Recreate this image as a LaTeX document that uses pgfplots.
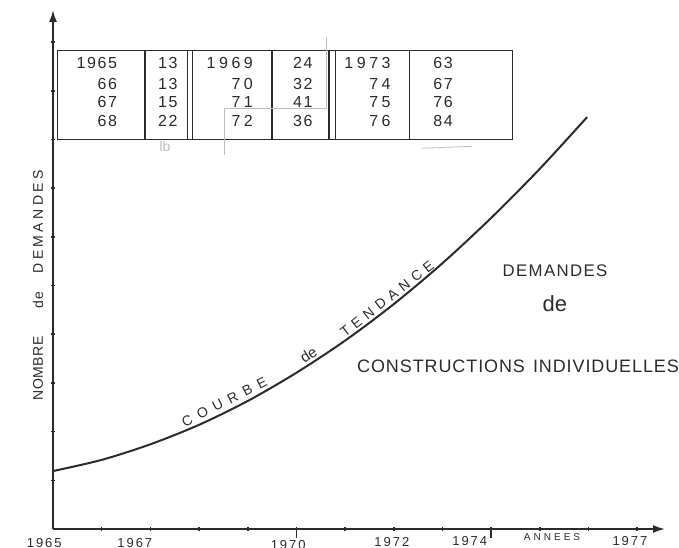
\documentclass[border=0pt]{standalone}
\usepackage{fontspec}
\setmainfont{Liberation Sans}
\usepackage{pgfplots}
\usepackage{pgfplotstable}
\pgfplotsset{compat=1.18}
\usetikzlibrary{arrows.meta}
\definecolor{ink}{HTML}{2B2B2B}
\definecolor{pencil}{HTML}{BDBDBD}
\newcommand{\hf}[2]{\fontsize{#1}{#1}\selectfont\addfontfeatures{LetterSpace=#2}}

% trend curve (year, number of requests)
\pgfplotstableread{
year val
1965.00 11.9
1966.00 14.2
1967.00 17.4
1968.00 21.4
1969.00 26.3
1970.00 32.1
1971.00 38.7
1972.00 46.2
1973.00 54.6
1974.00 63.9
1975.00 74.0
1975.97 84.6
}\trend

\begin{document}
\begin{tikzpicture}
\path[use as bounding box] (-26.5pt,-9pt) rectangle (313pt,264.5pt);
\begin{axis}[
  at={(0,0)}, anchor=south west,
  scale only axis, width=306pt, height=259.5pt,
  xmin=1965, xmax=1977.57, ymin=0, ymax=106.6,
  axis lines=left,
  axis line style={draw=ink, line width=0.9pt, -{Latex[length=6pt,width=4pt]}},
  xtick={1966,...,1977}, ytick={10,20,...,100},
  xticklabels={}, yticklabels={},
  tick style={draw=ink, line width=0.8pt},
  major tick length=2.2pt, tick align=center,
  extra x ticks={1970,1974}, extra x tick labels={},
  extra x tick style={major tick length=4.5pt, tick align=outside},
  clip=false,
]
\addplot[ink, line width=1pt, smooth, tension=0.5] table[x=year,y=val]{\trend};

% table frame
\draw[ink, line width=0.6pt] (axis cs:1965.10,80.08) rectangle (axis cs:1974.43,98.36);
\pgfplotsinvokeforeach{1966.89,1967.77,1967.87,1969.50,1970.67,1970.81,1972.33}{
  \draw[ink, line width=0.6pt] (axis cs:#1,80.08) -- (axis cs:#1,98.36);
}
% table contents
\node[anchor=east, text=ink, font={\hf{8}{10}}] at (axis cs:1966.46,95.7) {1965};
\node[anchor=east, text=ink, font={\hf{8}{10}}] at (axis cs:1966.46,91.4) {66};
\node[anchor=east, text=ink, font={\hf{8}{10}}] at (axis cs:1966.46,87.7) {67};
\node[anchor=east, text=ink, font={\hf{8}{10}}] at (axis cs:1966.46,83.8) {68};
\node[text=ink, font={\hf{8}{10}}] at (axis cs:1967.36,95.7) {13};
\node[text=ink, font={\hf{8}{10}}] at (axis cs:1967.36,91.4) {13};
\node[text=ink, font={\hf{8}{10}}] at (axis cs:1967.36,87.7) {15};
\node[text=ink, font={\hf{8}{10}}] at (axis cs:1967.36,83.8) {22};
\node[anchor=east, text=ink, font={\hf{8}{22}}] at (axis cs:1969.25,95.7) {1969};
\node[anchor=east, text=ink, font={\hf{8}{22}}] at (axis cs:1969.25,91.4) {70};
\node[anchor=east, text=ink, font={\hf{8}{22}}] at (axis cs:1969.25,87.7) {71};
\node[anchor=east, text=ink, font={\hf{8}{22}}] at (axis cs:1969.25,83.8) {72};
\node[text=ink, font={\hf{8}{10}}] at (axis cs:1970.13,95.7) {24};
\node[text=ink, font={\hf{8}{10}}] at (axis cs:1970.13,91.4) {32};
\node[text=ink, font={\hf{8}{10}}] at (axis cs:1970.13,87.7) {41};
\node[text=ink, font={\hf{8}{10}}] at (axis cs:1970.13,83.8) {36};
\node[anchor=east, text=ink, font={\hf{8}{22}}] at (axis cs:1972.08,95.7) {1973};
\node[anchor=east, text=ink, font={\hf{8}{22}}] at (axis cs:1972.08,91.4) {74};
\node[anchor=east, text=ink, font={\hf{8}{22}}] at (axis cs:1972.08,87.7) {75};
\node[anchor=east, text=ink, font={\hf{8}{22}}] at (axis cs:1972.08,83.8) {76};
\node[text=ink, font={\hf{8}{10}}] at (axis cs:1973.01,95.7) {63};
\node[text=ink, font={\hf{8}{10}}] at (axis cs:1973.01,91.4) {67};
\node[text=ink, font={\hf{8}{10}}] at (axis cs:1973.01,87.7) {76};
\node[text=ink, font={\hf{8}{10}}] at (axis cs:1973.01,83.8) {84};

% faint pencil marks
\draw[pencil, line width=0.4pt] (axis cs:1970.61,101.0) -- (axis cs:1970.61,86.4) -- (axis cs:1968.53,86.4) -- (axis cs:1968.53,76.8);
\draw[pencil, line width=0.4pt] (axis cs:1972.58,78.2) -- (axis cs:1973.60,78.6);
\node[text=pencil, font={\hf{7}{0}}] at (axis cs:1967.30,78.6) {lb};

% x axis labels
\node[text=ink, font={\hf{6.5}{15}}] at ([yshift=-7pt]axis cs:1964.82,0) {1965};
\node[text=ink, font={\hf{6.5}{15}}] at ([yshift=-7pt]axis cs:1966.68,0) {1967};
\node[text=ink, font={\hf{6.5}{15}}] at ([yshift=-8pt]axis cs:1969.83,0) {1970};
\node[text=ink, font={\hf{6.5}{15}}] at ([yshift=-6.5pt]axis cs:1971.96,0) {1972};
\node[text=ink, font={\hf{6.5}{15}}] at ([yshift=-6pt]axis cs:1973.56,0) {1974};
\node[text=ink, font={\hf{5}{30}}] at ([yshift=-4pt]axis cs:1975.25,0) {ANNEES};
\node[text=ink, font={\hf{6.5}{15}}] at ([yshift=-6pt]axis cs:1976.85,0) {1977};

% y axis label
\node[rotate=90, text=ink, font={\hf{7}{4}}] at ([xshift=-7.5pt]axis cs:1965,33.0) {NOMBRE};
\node[rotate=90, text=ink, font={\hf{7}{4}}] at ([xshift=-7.5pt]axis cs:1965,47.0) {de};
\node[rotate=90, text=ink, font={\hf{7}{24}}] at ([xshift=-7.5pt]axis cs:1965,63.1) {DEMANDES};

% curve annotation, sitting just above the curve
\node[rotate=27, anchor=south, inner sep=1.2pt, text=ink, font={\hf{7}{48}}] at (axis cs:1968.59,24.7) {COURBE};
\node[rotate=33, anchor=south, inner sep=1.2pt, text=ink, font={\hf{7.5}{0}}] at (axis cs:1970.34,34.4) {de};
\node[rotate=38, anchor=south, inner sep=1.2pt, text=ink, font={\hf{7}{38}}] at (axis cs:1971.96,46.0) {TENDANCE};

% title block
\node[text=ink, font={\hf{8.4}{8}}] at (axis cs:1975.31,53.0) {DEMANDES};
\node[text=ink, font={\hf{11}{0}}] at (axis cs:1975.31,46.2) {de};
\node[anchor=west, inner sep=0pt, text=ink, font={\hf{9}{5}}] at (axis cs:1971.24,33.5) {CONSTRUCTIONS\hspace{4pt}INDIVIDUELLES};
\end{axis}
\end{tikzpicture}
\end{document}
